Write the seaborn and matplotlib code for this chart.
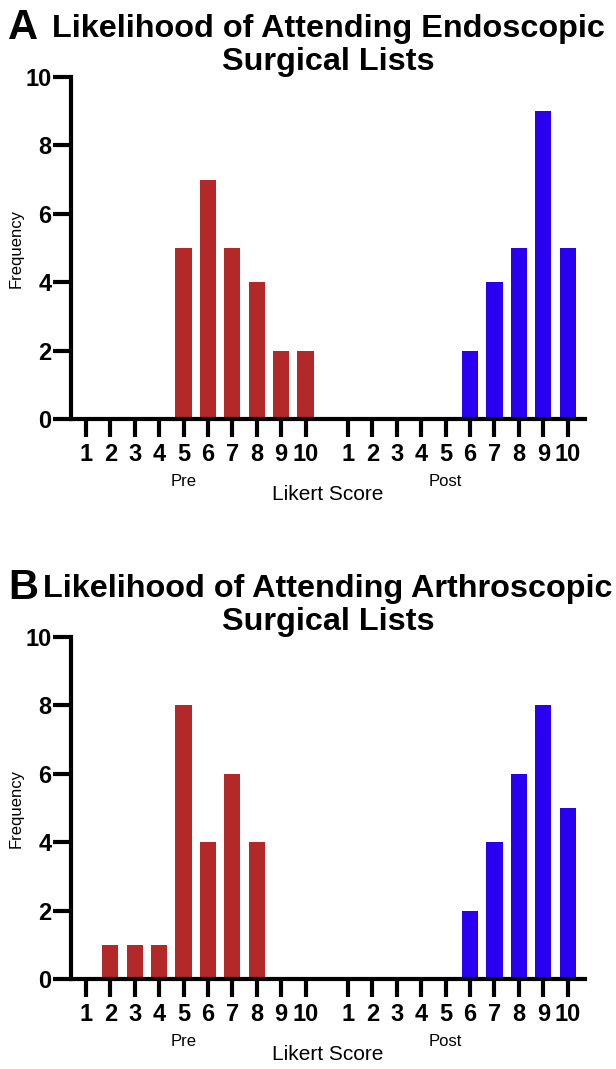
import pandas as pd
import matplotlib
matplotlib.use("Agg")
import matplotlib.pyplot as plt
import seaborn as sns

# Likert scores and frequencies
scores = list(range(1, 11))
endo_pre = [0, 0, 0, 0, 5, 7, 5, 4, 2, 2]
endo_post = [0, 0, 0, 0, 0, 2, 4, 5, 9, 5]
arthro_pre = [0, 1, 1, 1, 8, 4, 6, 4, 0, 0]
arthro_post = [0, 0, 0, 0, 0, 2, 4, 6, 8, 5]

titles = [("Likelihood of Attending Endoscopic", "Surgical Lists"),
          ("Likelihood of Attending Arthroscopic", "Surgical Lists")]
letters = ["A", "B"]
colors = {"Pre": "#B3292A", "Post": "#2A00F0"}

sns.set_theme(style="white")
plt.rcParams["font.family"] = ["Liberation Sans", "DejaVu Sans"]
plt.rcParams["text.color"] = "black"
plt.rcParams["axes.labelcolor"] = "black"
plt.rcParams["xtick.color"] = "black"
plt.rcParams["ytick.color"] = "black"

W, H = 616, 1069
fig = plt.figure(figsize=(W / 100, H / 100), dpi=100)

GAP = 10.74  # offset of the Post group on the x scale


def make_df(pre, post):
    rows = []
    for s, v in zip(scores, pre):
        rows.append({"pos": s - 1, "count": v, "group": "Pre"})
    for s, v in zip(scores, post):
        rows.append({"pos": s - 1 + GAP, "count": v, "group": "Post"})
    return pd.DataFrame(rows)


def px_axes(left, top, right, bottom):
    return fig.add_axes([left / W, 1 - bottom / H, (right - left) / W, (bottom - top) / H])


panels = [(endo_pre, endo_post), (arthro_pre, arthro_post)]
for k, (pre, post) in enumerate(panels):
    off = 560 * k
    ax = px_axes(71, 77 + off, 585, 419 + off)
    df = make_df(pre, post)
    sns.barplot(data=df, x="pos", y="count", hue="group", palette=colors,
                native_scale=True, dodge=False, width=0.66, linewidth=0,
                saturation=1, legend=False, ax=ax)
    ax.set_xlim(-0.61, 20.45)
    ax.set_ylim(0, 10)
    ax.set_yticks([0, 2, 4, 6, 8, 10])
    ax.set_yticklabels(["0", "2", "4", "6", "8", "10"], fontsize=17, fontweight="bold")
    ticks = [s - 1 for s in scores] + [s - 1 + GAP for s in scores]
    ax.set_xticks(ticks)
    ax.set_xticklabels([str(s) for s in scores] * 2, fontsize=17, fontweight="bold")
    ax.tick_params(axis="both", length=13, width=3, color="black", direction="out",
                   bottom=True, left=True)
    ax.tick_params(axis="x", pad=4)
    ax.tick_params(axis="y", pad=1)
    for side in ["top", "right"]:
        ax.spines[side].set_visible(False)
    for side in ["left", "bottom"]:
        ax.spines[side].set_linewidth(3)
        ax.spines[side].set_color("black")
    ax.set_xlabel("")
    ax.set_ylabel("Frequency", fontsize=12)
    ax.yaxis.set_label_coords(-(71 - 24) / 514, 0.5)

    # group labels and axis title
    ax.text(4, -1.83, "Pre", ha="center", va="center", fontsize=12)
    ax.text(4 + GAP, -1.83, "Post", ha="center", va="center", fontsize=12)
    ax.text(0.5, -0.222, "Likert Score", transform=ax.transAxes,
            ha="center", va="center", fontsize=15)

    line1, line2 = titles[k]
    fig.text(328 / W, 1 - (29 + off) / H, line1, ha="center", va="center",
             fontsize=23.3, fontweight="bold")
    fig.text(328 / W, 1 - (62 + off) / H, line2, ha="center", va="center",
             fontsize=23.3, fontweight="bold")
    fig.text(8 / W, 1 - (28 + off) / H, letters[k], ha="left", va="center",
             fontsize=30, fontweight="bold")

fig.savefig("out.png", dpi=100)
